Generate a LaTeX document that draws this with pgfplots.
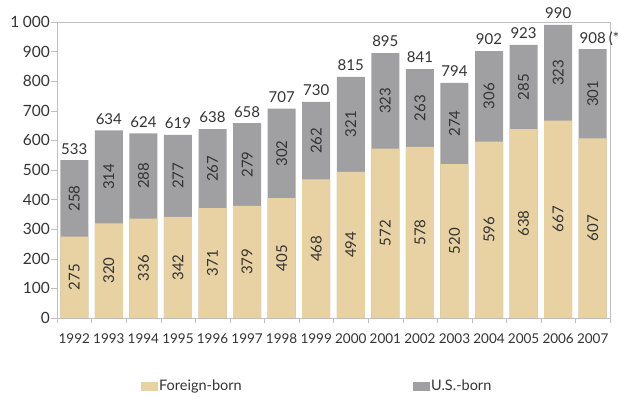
\documentclass[border=0pt]{standalone}
\usepackage{pgfplots}
\pgfplotsset{compat=1.18}
\usepackage{pgfplotstable}
\usepackage{fontspec}
\setmainfont{Lato}

\definecolor{foreign}{HTML}{E8D2A4}
\definecolor{usborn}{HTML}{A0A0A2}
\definecolor{txt}{HTML}{333333}
\definecolor{frame}{HTML}{BFBFBF}

% x: bar position, f: foreign-born, u: U.S.-born, t: total
\pgfplotstableread{
x year f u t
0  1992 275 258 533
1  1993 320 314 634
2  1994 336 288 624
3  1995 342 277 619
4  1996 371 267 638
5  1997 379 279 658
6  1998 405 302 707
7  1999 468 262 730
8  2000 494 321 815
9  2001 572 323 895
10 2002 578 263 841
11 2003 520 274 794
12 2004 596 306 902
13 2005 638 285 923
14 2006 667 323 990
15 2007 607 301 908
}\births

\begin{document}
\begin{tikzpicture}
\begin{axis}[
  scale only axis, width=553pt, height=296pt,
  xmin=-0.5, xmax=15.5, ymin=0, ymax=1000,
  clip=false,
  axis line style={draw=frame},
  tick style={draw=frame},
  tick align=outside, tick pos=left,
  major tick length=6pt,
  ytick={0,100,...,1000},
  xtick={0,...,15},
  major x tick style={draw=none},
  minor xtick={-0.5,0.5,...,15.5},
  minor tick length=5pt,
  minor x tick style={draw=frame},
  xticklabels={1992,1993,1994,1995,1996,1997,1998,1999,2000,2001,2002,2003,2004,2005,2006,2007},
  /pgf/number format/assume math mode=true,
  /pgf/number format/1000 sep={\hspace{3.5pt}},
  yticklabel style={font=\fontsize{15.5}{17}\selectfont, text=txt, inner sep=1pt},
  xticklabel style={font=\fontsize{13.5}{16}\selectfont, text=txt, yshift=-6pt},
  legend style={at={(0.1465,-0.23)}, anchor=west, draw=none, fill=none,
    legend columns=2, font=\fontsize{14.5}{16}\selectfont, text=txt,
    /tikz/every even column/.append style={column sep=170pt},
    nodes={inner sep=1.5pt}},
]
\addlegendimage{legend image code/.code={\fill[foreign] (0pt,-4pt) rectangle (16pt,4pt);}}
\addlegendentry{Foreign-born}
\addlegendimage{legend image code/.code={\fill[usborn] (0pt,-4pt) rectangle (16pt,4pt);}}
\addlegendentry{U.S.-born}

% gray bars reach the total, tan bars cover the foreign-born part
\addplot[forget plot, ybar, bar width=28pt, bar shift=0pt, fill=usborn, draw=none]
  table[x=x, y=t] {\births};
\addplot[forget plot, ybar, bar width=28pt, bar shift=0pt, fill=foreign, draw=none]
  table[x=x, y=f] {\births};

% segment values, centred and rotated
\addplot[forget plot, draw=none, nodes near coords, point meta=explicit,
  every node near coord/.style={rotate=90, anchor=center, inner sep=0pt,
    font=\fontsize{15}{17}\selectfont, text=txt}]
  table[x=x, y expr=\thisrow{f}/2, meta=f] {\births};
\addplot[forget plot, draw=none, nodes near coords, point meta=explicit,
  every node near coord/.style={rotate=90, anchor=center, inner sep=0pt,
    font=\fontsize{15}{17}\selectfont, text=txt}]
  table[x=x, y expr=\thisrow{f}+\thisrow{u}/2, meta=u] {\births};

% totals above the bars
\addplot[forget plot, draw=none, nodes near coords, point meta=explicit,
  every node near coord/.style={anchor=south, inner sep=0pt, yshift=6pt, text depth=0pt,
    font=\fontsize{15}{17}\selectfont, text=txt}]
  table[x=x, y=t, meta=t] {\births};

\node[anchor=south west, inner sep=0pt, yshift=6pt, xshift=16pt, text depth=0pt,
  font=\fontsize{15}{17}\selectfont, text=txt] at (axis cs:15,908) {(*};
\end{axis}
\pgfresetboundingbox
\path (-57pt,-78pt) rectangle (561pt,318pt);
\end{tikzpicture}
\end{document}
